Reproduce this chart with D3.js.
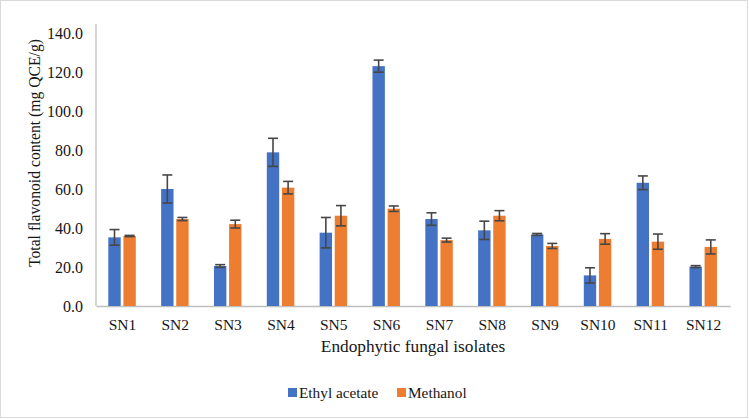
<!DOCTYPE html>
<html lang="en">
<head>
<meta charset="utf-8">
<title>Total flavonoid content</title>
<script src="https://d3js.org/d3.v7.min.js"></script>
<style>
  body { margin: 0; background: #fff; }
  svg { font-family: "Liberation Serif", "Times New Roman", serif; }
</style>
</head>
<body>
<svg id="chart" width="749" height="419"></svg>
<script>
// data
var isolates = ["SN1","SN2","SN3","SN4","SN5","SN6","SN7","SN8","SN9","SN10","SN11","SN12"];
var ethylAcetate = [35.2, 60.0, 20.5, 78.8, 37.6, 123.0, 44.6, 38.8, 36.7, 15.7, 63.2, 20.2];
var ethylErr     = [4.0, 7.2, 0.7, 7.2, 7.8, 3.1, 3.2, 4.7, 0.5, 3.9, 3.5, 0.5];
var methanol     = [35.9, 44.6, 42.0, 60.7, 46.3, 49.9, 33.8, 46.3, 30.8, 34.4, 33.0, 30.3];
var methanolErr  = [0.3, 0.8, 2.0, 3.2, 5.2, 1.4, 1.0, 2.6, 1.3, 2.7, 3.9, 3.6];
var yTicks = [0, 20, 40, 60, 80, 100, 120, 140];
var seriesNames = ["Ethyl acetate", "Methanol"];

var margin = {top: 33, left: 96, right: 19, bottom: 113};
var width = 749 - margin.left - margin.right,
    height = 419 - margin.top - margin.bottom;

var svg = d3.select("#chart");
var ink = "#161616";

// outer frame
svg.append("rect")
   .attr("x", 0.5).attr("y", 0.5)
   .attr("width", 747).attr("height", 417)
   .attr("fill", "#fff").attr("stroke", "#d9d9d9");

var g = svg.append("g")
   .attr("transform", "translate(" + margin.left + "," + margin.top + ")");

var x = d3.scaleBand().domain(isolates).range([0, width]);
var xSub = d3.scaleBand().domain(seriesNames).range([12.3, 39.8]).paddingInner(0.18);
var y = d3.scaleLinear().domain([0, 140]).range([height, 0]);

var color = d3.scaleOrdinal().domain(seriesNames).range(["#4472c4", "#ed7d31"]);

// y axis labels
var yAxis = g.append("g")
   .call(d3.axisLeft(y).tickValues(yTicks).tickFormat(d3.format(".1f")).tickSize(0).tickPadding(13));
yAxis.select(".domain").remove();
yAxis.selectAll("text")
   .attr("font-family", "Liberation Serif, serif")
   .attr("font-size", 16).attr("fill", ink);

// left axis line
g.append("line")
   .attr("x1", 0).attr("x2", 0)
   .attr("y1", -9).attr("y2", height)
   .attr("stroke", "#bfbfbf").attr("stroke-width", 1.3);

// x axis
var xAxis = g.append("g")
   .attr("transform", "translate(0," + height + ")")
   .call(d3.axisBottom(x).tickSize(0).tickPadding(13));
xAxis.select(".domain").attr("stroke", "#bfbfbf").attr("stroke-width", 1.3);
xAxis.selectAll("text")
   .attr("font-family", "Liberation Serif, serif")
   .attr("font-size", 15.5).attr("fill", ink);

var rows = isolates.map(function(k, i) {
  return [
    {key: seriesNames[0], v: ethylAcetate[i], e: ethylErr[i]},
    {key: seriesNames[1], v: methanol[i], e: methanolErr[i]}
  ];
});

var groups = g.append("g").selectAll("g")
   .data(rows).enter().append("g")
   .attr("transform", function(d, i) { return "translate(" + x(isolates[i]) + ",0)"; });

groups.selectAll("rect")
   .data(function(d) { return d; }).enter().append("rect")
   .attr("x", function(d) { return xSub(d.key); })
   .attr("y", function(d) { return y(d.v); })
   .attr("width", xSub.bandwidth())
   .attr("height", function(d) { return height - y(d.v); })
   .attr("fill", function(d) { return color(d.key); });

// error bars
var eb = groups.selectAll("g.err")
   .data(function(d) { return d; }).enter().append("g")
   .attr("class", "err")
   .attr("stroke", "#474747").attr("stroke-width", 1.6);
eb.append("line")
   .attr("x1", function(d) { return xSub(d.key) + xSub.bandwidth() / 2; })
   .attr("x2", function(d) { return xSub(d.key) + xSub.bandwidth() / 2; })
   .attr("y1", function(d) { return y(d.v + d.e); })
   .attr("y2", function(d) { return y(d.v - d.e); });
[1, -1].forEach(function(s) {
  eb.append("line")
     .attr("x1", function(d) { return xSub(d.key) + xSub.bandwidth() / 2 - 5; })
     .attr("x2", function(d) { return xSub(d.key) + xSub.bandwidth() / 2 + 5; })
     .attr("y1", function(d) { return y(d.v + s * d.e); })
     .attr("y2", function(d) { return y(d.v + s * d.e); });
});

// axis titles
svg.append("text")
   .attr("x", 413).attr("y", 352)
   .attr("text-anchor", "middle")
   .attr("font-size", 17.3).attr("fill", ink)
   .text("Endophytic fungal isolates");

svg.append("text")
   .attr("transform", "translate(40,153) rotate(-90)")
   .attr("text-anchor", "middle")
   .attr("font-size", 15.7).attr("fill", ink)
   .text("Total flavonoid content (mg QCE/g)");

// legend
var legend = svg.append("g").attr("transform", "translate(288,388)");
var lx = [0, 109];
seriesNames.forEach(function(name, i) {
  legend.append("rect")
     .attr("x", lx[i]).attr("y", 0)
     .attr("width", 9).attr("height", 9)
     .attr("fill", color(name));
  legend.append("text")
     .attr("x", lx[i] + 11).attr("y", 9.5)
     .attr("font-size", 15.3).attr("fill", ink)
     .text(name);
});
</script>
</body>
</html>
